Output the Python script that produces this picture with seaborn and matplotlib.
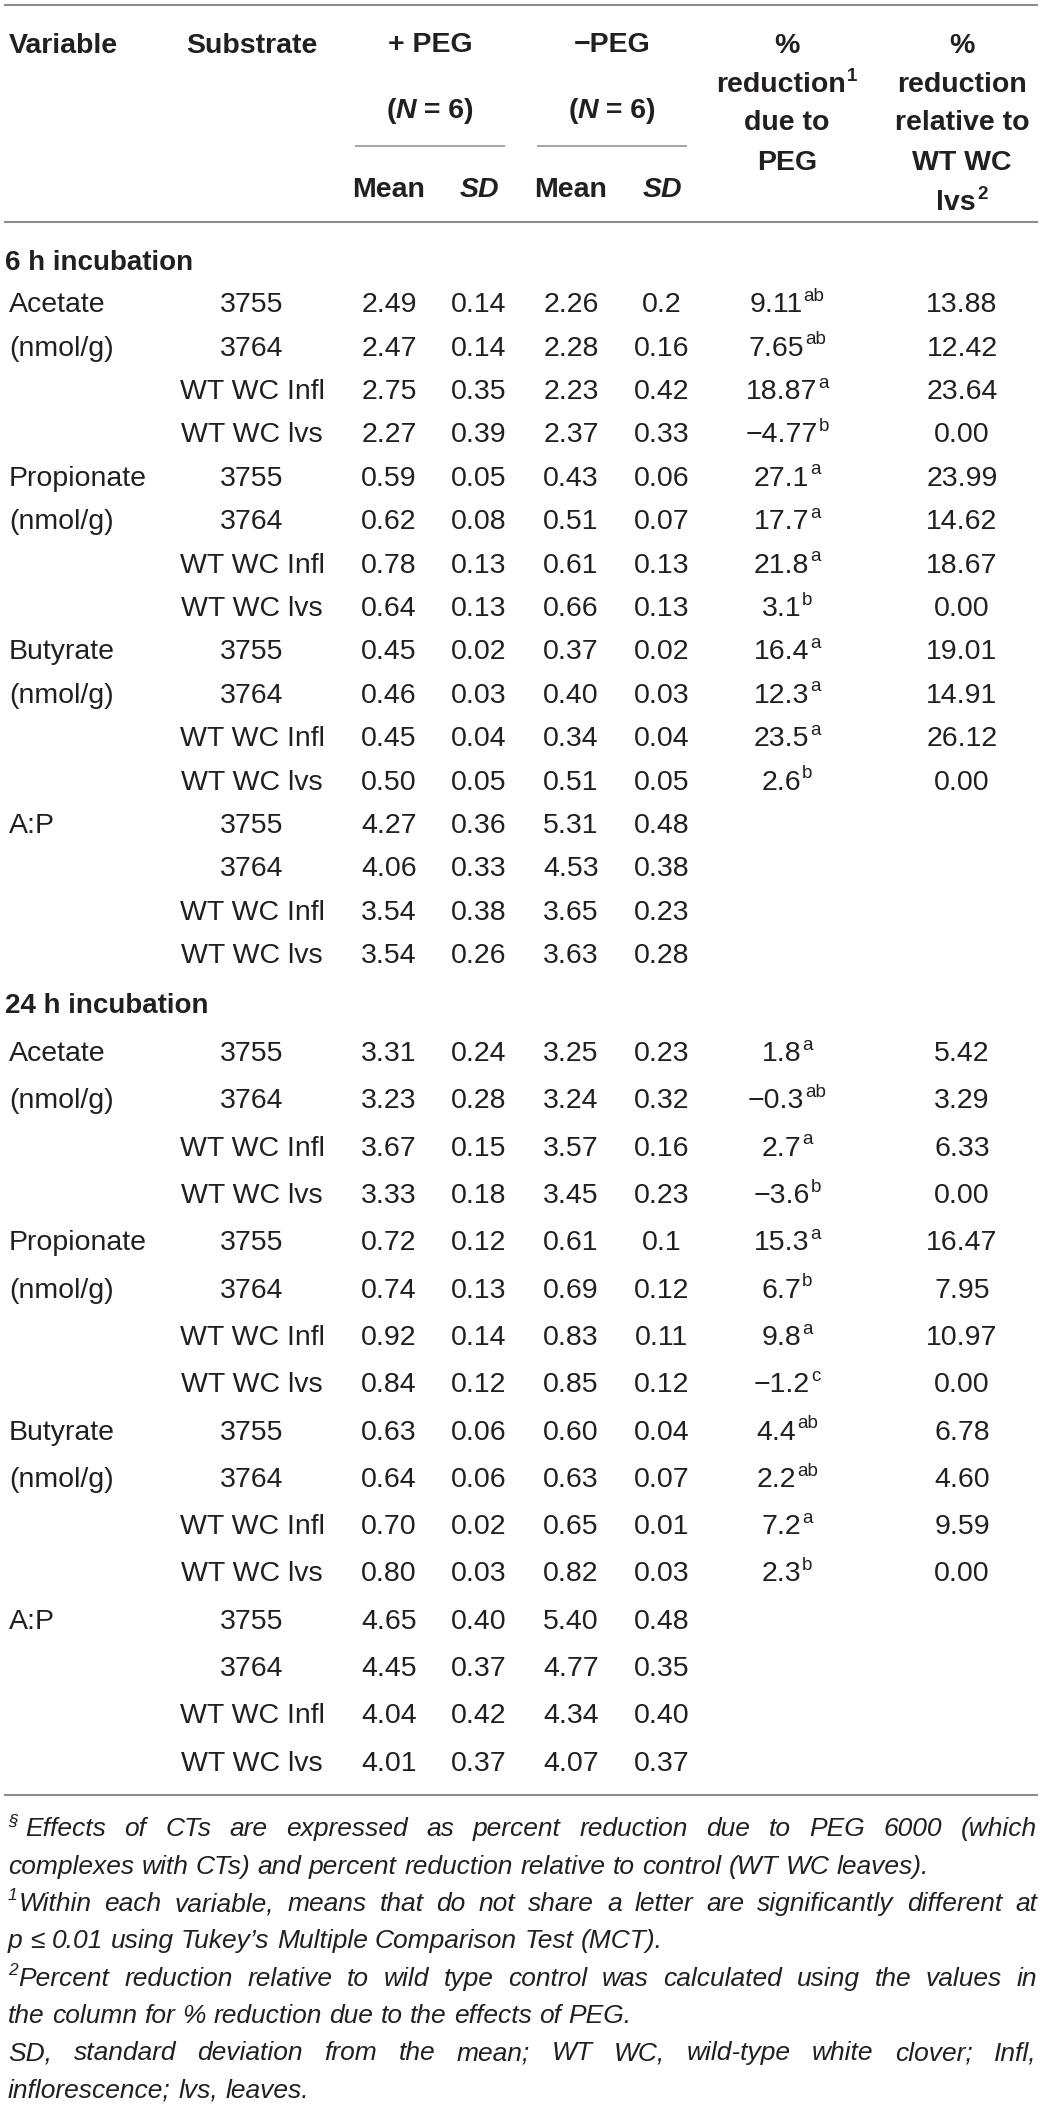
import matplotlib
matplotlib.use("Agg")
import seaborn as sns
import matplotlib.pyplot as plt
from matplotlib import font_manager

# table values (kept as printed, so "0.2" stays "0.2")
substrates = ["3755", "3764", "WT WC Infl", "WT WC lvs"]
variables = [("Acetate", "(nmol/g)"), ("Propionate", "(nmol/g)"),
             ("Butyrate", "(nmol/g)"), ("A:P", "")]

mean_peg_6h = ["2.49", "2.47", "2.75", "2.27", "0.59", "0.62", "0.78", "0.64",
               "0.45", "0.46", "0.45", "0.50", "4.27", "4.06", "3.54", "3.54"]
sd_peg_6h = ["0.14", "0.14", "0.35", "0.39", "0.05", "0.08", "0.13", "0.13",
             "0.02", "0.03", "0.04", "0.05", "0.36", "0.33", "0.38", "0.26"]
mean_nopeg_6h = ["2.26", "2.28", "2.23", "2.37", "0.43", "0.51", "0.61", "0.66",
                 "0.37", "0.40", "0.34", "0.51", "5.31", "4.53", "3.65", "3.63"]
sd_nopeg_6h = ["0.2", "0.16", "0.42", "0.33", "0.06", "0.07", "0.13", "0.13",
               "0.02", "0.03", "0.04", "0.05", "0.48", "0.38", "0.23", "0.28"]
red_peg_6h = ["9.11", "7.65", "18.87", "\u22124.77", "27.1", "17.7", "21.8", "3.1",
              "16.4", "12.3", "23.5", "2.6"]
red_letter_6h = ["ab", "ab", "a", "b", "a", "a", "a", "b", "a", "a", "a", "b"]
red_wt_6h = ["13.88", "12.42", "23.64", "0.00", "23.99", "14.62", "18.67", "0.00",
             "19.01", "14.91", "26.12", "0.00"]

mean_peg_24h = ["3.31", "3.23", "3.67", "3.33", "0.72", "0.74", "0.92", "0.84",
                "0.63", "0.64", "0.70", "0.80", "4.65", "4.45", "4.04", "4.01"]
sd_peg_24h = ["0.24", "0.28", "0.15", "0.18", "0.12", "0.13", "0.14", "0.12",
              "0.06", "0.06", "0.02", "0.03", "0.40", "0.37", "0.42", "0.37"]
mean_nopeg_24h = ["3.25", "3.24", "3.57", "3.45", "0.61", "0.69", "0.83", "0.85",
                  "0.60", "0.63", "0.65", "0.82", "5.40", "4.77", "4.34", "4.07"]
sd_nopeg_24h = ["0.23", "0.32", "0.16", "0.23", "0.1", "0.12", "0.11", "0.12",
                "0.04", "0.07", "0.01", "0.03", "0.48", "0.35", "0.40", "0.37"]
red_peg_24h = ["1.8", "\u22120.3", "2.7", "\u22123.6", "15.3", "6.7", "9.8", "\u22121.2",
               "4.4", "2.2", "7.2", "2.3"]
red_letter_24h = ["a", "ab", "a", "b", "a", "b", "a", "c", "ab", "ab", "a", "b"]
red_wt_24h = ["5.42", "3.29", "6.33", "0.00", "16.47", "7.95", "10.97", "0.00",
              "6.78", "4.60", "9.59", "0.00"]

notes = [
    ("\u00a7", ["Effects of CTs are expressed as percent reduction due to PEG 6000 (which",
                "complexes with CTs) and percent reduction relative to control (WT WC leaves)."]),
    ("1", ["Within each variable, means that do not share a letter are significantly different at",
           "p \u2264 0.01 using Tukey\u2019s Multiple Comparison Test (MCT)."]),
    ("2", ["Percent reduction relative to wild type control was calculated using the values in",
           "the column for % reduction due to the effects of PEG."]),
    ("", ["SD, standard deviation from the mean; WT WC, wild-type white clover; Infl,",
          "inflorescence; lvs, leaves."]),
]

sns.set_theme(style="white")
plt.rcParams['font.family'] = ['Liberation Sans', 'DejaVu Sans']

INK = "#231f20"
RULE = "#8c8c8c"
BODY = 20.5

W, H = 1043, 2107
fig = plt.figure(figsize=(W / 100, H / 100), dpi=100)
ax = fig.add_axes([0, 0, 1, 1])
ax.set_xlim(0, W)
ax.set_ylim(H, 0)
ax.axis('off')
renderer = fig.canvas.get_renderer()


def em(size):
    return size * 100 / 72


def width(t):
    return t.get_window_extent(renderer).width


def put(x, y, parts, ha='center', size=BODY, weight='normal', style='normal', family=None):
    """parts: list of (text, kind) with kind 'n', 'i' (italic) or 'sup'."""
    if isinstance(parts, str):
        parts = [(parts, 'n')]
    base = y + em(size) * 0.716 / 2
    objs, ws = [], []
    for txt, kind in parts:
        kw = dict(fontsize=size, weight=weight, style=style, color=INK, va='baseline', ha='left')
        if family:
            kw['family'] = family
        yy = base
        if kind == 'i':
            kw['style'] = 'italic'
        if kind == 'sup':
            kw['fontsize'] = size * 0.66
            yy = base - em(size) * 0.40
        t = ax.text(0, yy, txt, **kw)
        objs.append(t)
        ws.append(width(t) + (1 if kind == 'sup' else 0))
    total = sum(ws)
    x0 = {'left': x, 'center': x - total / 2, 'right': x - total}[ha]
    for t, w in zip(objs, ws):
        t.set_x(x0 + (1 if w != ws[0] and t.get_fontsize() < size else 0))
        x0 += w


def hline(x0, x1, y, lw=1.5):
    ax.plot([x0, x1], [y, y], color=RULE, lw=lw, solid_capstyle='butt')


# columns
X_VAR, X_SUB = 9, 252
X_MP, X_SP, X_MN, X_SN = 389, 479, 571, 662
X_RED, X_WT = 787, 962

# rules
hline(4, 1038, 5)
hline(4, 1038, 222)
hline(4, 1038, 1795)
hline(355, 505, 146, lw=1.1)
hline(537, 687, 146, lw=1.1)

# header
put(X_VAR, 43, "Variable", ha='left', weight='bold')
put(X_SUB, 43, "Substrate", weight='bold')
put(430, 42, "+ PEG", weight='bold')
put(612, 42, "\u2212PEG", weight='bold')
put(430, 108, [("(", 'n'), ("N", 'i'), (" = 6)", 'n')], weight='bold')
put(612, 108, [("(", 'n'), ("N", 'i'), (" = 6)", 'n')], weight='bold')
put(X_MP, 187, "Mean", weight='bold')
put(X_SP, 187, "SD", weight='bold', style='italic')
put(X_MN, 187, "Mean", weight='bold')
put(X_SN, 187, "SD", weight='bold', style='italic')
head_y = [43, 82, 120, 160, 200]
for yy, p in zip(head_y, ["%", [("reduction", 'n'), ("1", 'sup')], "due to", "PEG"]):
    put(X_RED, yy, p, weight='bold')
for yy, p in zip(head_y, ["%", "reduction", "relative to", "WT WC", [("lvs", 'n'), ("2", 'sup')]]):
    put(X_WT, yy, p, weight='bold')

blocks = [
    ("6 h incubation", 260, 302, 43.4,
     mean_peg_6h, sd_peg_6h, mean_nopeg_6h, sd_nopeg_6h, red_peg_6h, red_letter_6h, red_wt_6h),
    ("24 h incubation", 1003, 1051, 47.3,
     mean_peg_24h, sd_peg_24h, mean_nopeg_24h, sd_nopeg_24h, red_peg_24h, red_letter_24h, red_wt_24h),
]

for title, ty, y0, step, mp, sp, mn, sn, rp, rl, rw in blocks:
    put(5, ty, title, ha='left', weight='bold', size=20)
    for k in range(len(mp)):
        y = y0 + step * k
        v, s = divmod(k, 4)
        if s < 2 and variables[v][s]:
            put(X_VAR, y, variables[v][s], ha='left')
        put(X_SUB, y, substrates[s])
        put(X_MP, y, mp[k])
        put(X_SP, y, sp[k])
        put(X_MN, y, mn[k])
        put(X_SN, y, sn[k])
        if k < len(rp):
            put(X_RED, y, [(rp[k], 'n'), (rl[k], 'sup')])
            put(X_WT, y, rw[k])

# footnotes, justified like the source
names = {f.name for f in font_manager.fontManager.ttflist}
note_family = ['Liberation Sans Narrow', 'DejaVu Sans'] if 'Liberation Sans Narrow' in names \
    else ['Liberation Sans', 'DejaVu Sans']
NX0, NX1 = 8, 1037


def measure(s, size):
    t = ax.text(0, 0, s, fontsize=size, style='italic', family=note_family)
    w = width(t)
    t.remove()
    return w


nsize = 18
w3 = measure(notes[1][1][0], nsize) + measure("1", nsize * 0.66)
nsize = min(19, nsize * 1020 / w3)
space = measure("a a", nsize) - measure("aa", nsize)

ny = 1827
for lead, lines in notes:
    for i, line in enumerate(lines):
        base = ny + em(nsize) * 0.716 / 2
        x = NX0
        if i == 0 and lead:
            t = ax.text(x, base - em(nsize) * 0.40, lead, fontsize=nsize * 0.66,
                        style='italic', family=note_family, color=INK, va='baseline')
            x += width(t) + (space if lead == "\u00a7" else 1)
        words = line.split(" ")
        objs = [ax.text(0, base, w, fontsize=nsize, style='italic', family=note_family,
                        color=INK, va='baseline') for w in words]
        ws = [width(t) for t in objs]
        last = i == len(lines) - 1
        gap = space if last else (NX1 - x - sum(ws)) / (len(words) - 1)
        for t, w in zip(objs, ws):
            t.set_x(x)
            x += w + gap
        ny += 37.3

fig.savefig("out.png", dpi=100)
